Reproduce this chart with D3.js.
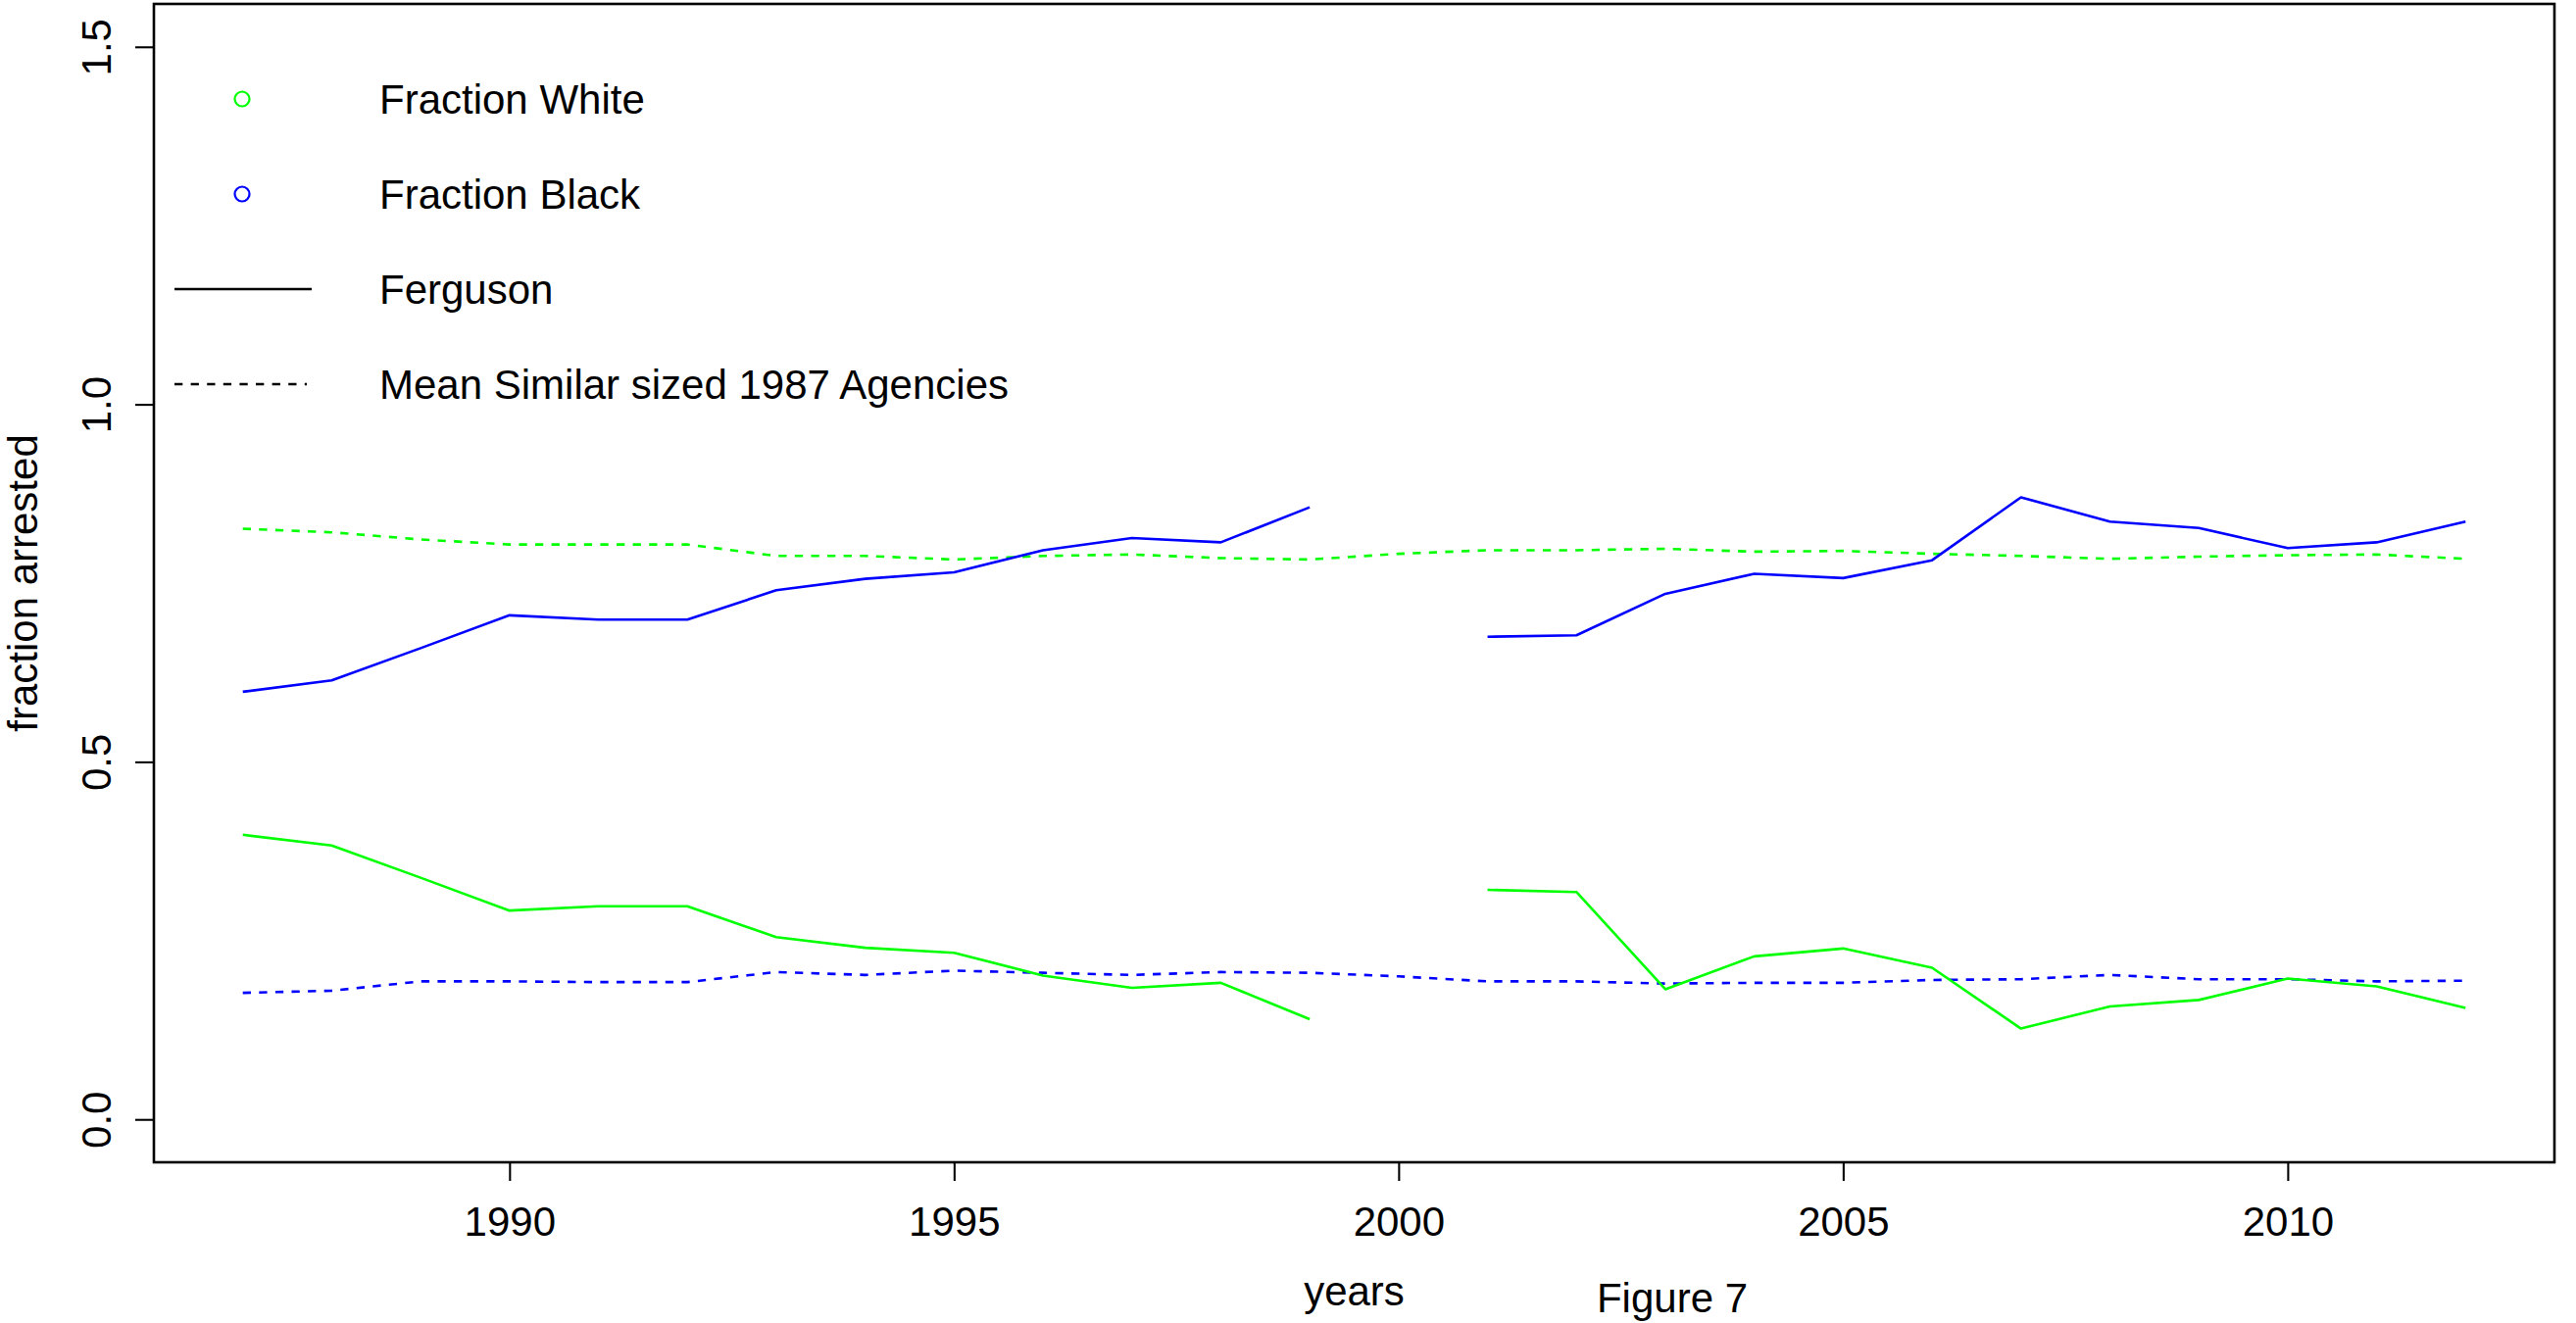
<!DOCTYPE html>
<html>
<head>
<meta charset="utf-8">
<script src="https://cdn.jsdelivr.net/npm/d3@7"></script>
<style>
  html, body { margin: 0; padding: 0; background: #ffffff; }
  svg { display: block; }
  text { font-family: "Liberation Sans", Arial, Helvetica, sans-serif; fill: #000; }
</style>
</head>
<body>
<svg id="chart" width="2628" height="1350"></svg>
<script>
// Arrest fractions by year: Ferguson vs. mean of similar sized 1987 agencies
const years = [1987, 1988, 1989, 1990, 1991, 1992, 1993, 1994, 1995, 1996, 1997, 1998, 1999,
               2000, 2001, 2002, 2003, 2004, 2005, 2006, 2007, 2008, 2009, 2010, 2011, 2012];

// Ferguson (no report for 2000)
const fergusonWhite = [0.398, 0.383, 0.338, 0.292, 0.298, 0.298, 0.255, 0.240, 0.233, 0.201, 0.184, 0.191, 0.140,
                       null, 0.321, 0.318, 0.182, 0.228, 0.239, 0.212, 0.127, 0.158, 0.167, 0.197, 0.186, 0.156];
const fergusonBlack = [0.598, 0.614, 0.659, 0.705, 0.699, 0.699, 0.740, 0.756, 0.765, 0.796, 0.813, 0.807, 0.856,
                       null, 0.675, 0.677, 0.735, 0.763, 0.757, 0.782, 0.870, 0.836, 0.827, 0.799, 0.807, 0.836];

// Mean of similar sized 1987 agencies
const meanWhite = [0.826, 0.821, 0.811, 0.804, 0.804, 0.804, 0.788, 0.788, 0.783, 0.788, 0.790, 0.785, 0.783,
                   0.791, 0.796, 0.796, 0.798, 0.794, 0.795, 0.791, 0.788, 0.784, 0.787, 0.789, 0.790, 0.784];
const meanBlack = [0.177, 0.180, 0.193, 0.193, 0.192, 0.192, 0.206, 0.202, 0.208, 0.205, 0.202, 0.206, 0.205,
                   0.200, 0.193, 0.193, 0.190, 0.191, 0.191, 0.195, 0.196, 0.202, 0.196, 0.196, 0.193, 0.194];

const xTicks = [1990, 1995, 2000, 2005, 2010];
const yTicks = [0.0, 0.5, 1.0, 1.5];

const legendItems = [
  { label: "Fraction White", kind: "point", color: "#00ff00" },
  { label: "Fraction Black", kind: "point", color: "#0000ff" },
  { label: "Ferguson", kind: "solid", color: "#000000" },
  { label: "Mean Similar sized 1987 Agencies", kind: "dashed", color: "#000000" }
];

const series = [
  { values: meanWhite, color: "#00ff00", dashed: true },
  { values: meanBlack, color: "#0000ff", dashed: true },
  { values: fergusonWhite, color: "#00ff00", dashed: false },
  { values: fergusonBlack, color: "#0000ff", dashed: false }
];

// ---- layout ----
const plot = { left: 157, right: 2606, top: 4, bottom: 1186 };
const FONT = 42;
const LW = 2.6;
const DASH = "8.3,8.3";

const svg = d3.select("#chart");

// domains padded by 4% like a base-graphics plot
const xPad = (2012 - 1987) * 0.04;
const yPad = (1.5 - 0) * 0.04;
const x = d3.scaleLinear().domain([1987 - xPad, 2012 + xPad]).range([plot.left, plot.right]);
const y = d3.scaleLinear().domain([0 - yPad, 1.5 + yPad]).range([plot.bottom, plot.top]);

// ---- series ----
const line = d3.line()
  .defined(d => d.v != null)
  .x(d => x(d.year))
  .y(d => y(d.v));

const gLines = svg.append("g");
series.forEach(s => {
  const pts = years.map((yr, i) => ({ year: yr, v: s.values[i] }));
  gLines.append("path")
    .attr("d", line(pts))
    .attr("fill", "none")
    .attr("stroke", s.color)
    .attr("stroke-width", LW)
    .attr("stroke-linejoin", "round")
    .attr("stroke-dasharray", s.dashed ? DASH : null);
});

// ---- frame ----
svg.append("rect")
  .attr("x", plot.left).attr("y", plot.top)
  .attr("width", plot.right - plot.left).attr("height", plot.bottom - plot.top)
  .attr("fill", "none").attr("stroke", "#000").attr("stroke-width", LW);

// ---- x axis ----
const xAxis = d3.axisBottom(x).tickValues(xTicks).tickSize(19).tickFormat(d3.format("d"));
const gx = svg.append("g").attr("transform", `translate(0,${plot.bottom})`).call(xAxis);
gx.select(".domain").remove();
gx.selectAll(".tick line").attr("stroke", "#000").attr("stroke-width", LW * 0.8);
gx.selectAll(".tick text")
  .attr("font-size", FONT)
  .attr("font-family", "Liberation Sans, Arial, sans-serif")
  .attr("fill", "#000")
  .attr("y", 0).attr("dy", null)
  .attr("transform", "translate(0,75)");

// ---- y axis (labels rotated, reading upward) ----
const yAxis = d3.axisLeft(y).tickValues(yTicks).tickSize(19).tickFormat(d3.format(".1f"));
const gy = svg.append("g").attr("transform", `translate(${plot.left},0)`).call(yAxis);
gy.select(".domain").remove();
gy.selectAll(".tick line").attr("stroke", "#000").attr("stroke-width", LW * 0.8);
gy.selectAll(".tick text")
  .attr("font-size", FONT)
  .attr("font-family", "Liberation Sans, Arial, sans-serif")
  .attr("fill", "#000")
  .attr("x", 0).attr("dy", null)
  .attr("text-anchor", "middle")
  .attr("transform", "translate(-44,0) rotate(-90)");

// ---- axis titles ----
svg.append("text")
  .attr("x", (plot.left + plot.right) / 2).attr("y", 1332)
  .attr("text-anchor", "middle").attr("font-size", FONT)
  .text("years");

svg.append("text")
  .attr("x", 1706).attr("y", 1339)
  .attr("text-anchor", "middle").attr("font-size", FONT)
  .text("Figure 7");

svg.append("text")
  .attr("transform", `translate(38,${(plot.top + plot.bottom) / 2}) rotate(-90)`)
  .attr("text-anchor", "middle").attr("font-size", FONT)
  .text("fraction arrested");

// ---- legend ----
const legendRows = d3.scaleLinear().domain([0, 1]).range([101, 198]);
const gLeg = svg.append("g");
legendItems.forEach((item, i) => {
  const cy = legendRows(i);
  if (item.kind === "point") {
    gLeg.append("circle")
      .attr("cx", 247).attr("cy", cy).attr("r", 7.5)
      .attr("fill", "none").attr("stroke", item.color).attr("stroke-width", 2.2);
  } else {
    gLeg.append("line")
      .attr("x1", 178).attr("x2", item.kind === "dashed" ? 313 : 318)
      .attr("y1", cy).attr("y2", cy)
      .attr("stroke", item.color).attr("stroke-width", LW)
      .attr("stroke-dasharray", item.kind === "dashed" ? DASH : null);
  }
  gLeg.append("text")
    .attr("x", 387).attr("y", cy + 15)
    .attr("font-size", FONT)
    .text(item.label);
});
</script>
</body>
</html>
